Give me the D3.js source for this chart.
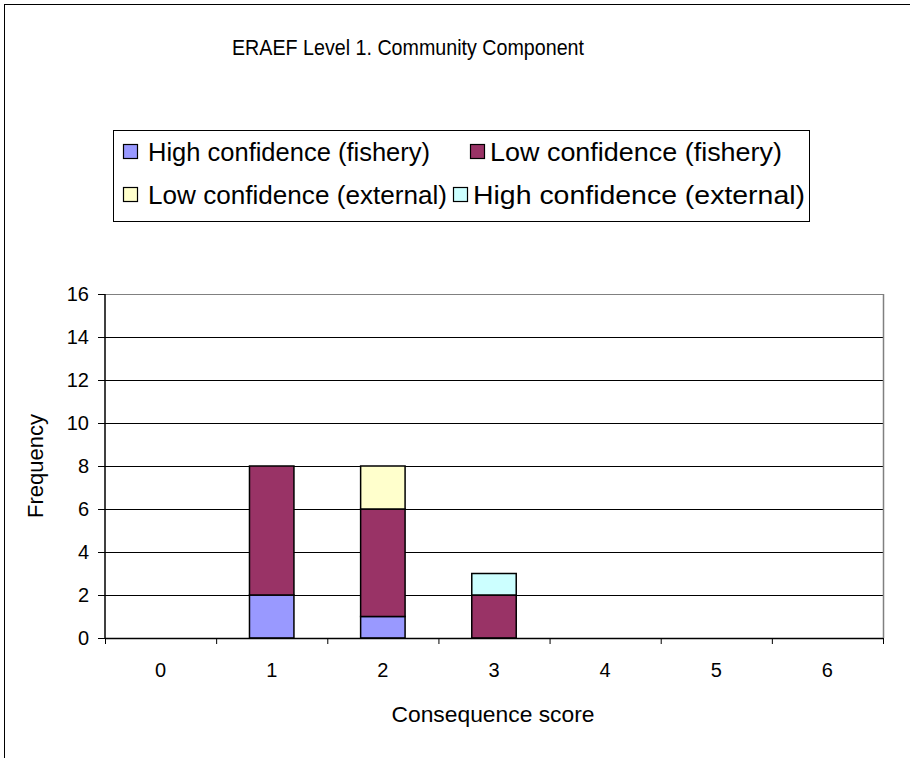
<!DOCTYPE html>
<html><head><meta charset="utf-8">
<script src="https://cdn.jsdelivr.net/npm/d3@7/dist/d3.min.js"></script>
<style>body{margin:0;background:#fff}svg{display:block}text{font-family:"Liberation Sans",Arial,sans-serif;fill:#000}</style>
</head><body>
<script>
const categories = ["0","1","2","3","4","5","6"];
const highFishery = [0,2,1,0,0,0,0];
const lowFishery = [0,6,5,2,0,0,0];
const lowExternal = [0,0,2,0,0,0,0];
const highExternal = [0,0,0,1,0,0,0];
const seriesNames = ["High confidence (fishery)","Low confidence (fishery)","Low confidence (external)","High confidence (external)"];
const seriesColors = ["#9999FF","#993366","#FFFFCC","#CCFFFF"];
const yTicks = [0,2,4,6,8,10,12,14,16];

const W=910,H=758;
const svg=d3.select("body").append("svg").attr("width",W).attr("height",H);
svg.append("rect").attr("x",4.5).attr("y",4.5).attr("width",W+10).attr("height",H+10).attr("fill","#fff").attr("stroke","#000");

const m={l:105,r:883,t:294,b:638};
const x=d3.scaleBand().domain(categories).range([m.l,m.r]).paddingInner(0.6).paddingOuter(0.3);
const xb=d3.scaleBand().domain(categories).range([m.l,m.r]);
const y=d3.scaleLinear().domain([0,16]).range([m.b,m.t]);

// grid
svg.append("g").selectAll("line").data(yTicks.filter(d=>d>0)).join("line")
 .attr("x1",m.l).attr("x2",m.r).attr("y1",d=>y(d)+0.5).attr("y2",d=>y(d)+0.5)
 .attr("stroke",d=>d===16?"#808080":"#000").attr("stroke-width",1);
svg.append("line").attr("x1",m.r+0.5).attr("x2",m.r+0.5).attr("y1",m.t).attr("y2",m.b).attr("stroke","#808080").attr("stroke-width",1.5);

// stacked bars
const rows=categories.map((c,i)=>({cat:c,s0:highFishery[i],s1:lowFishery[i],s2:lowExternal[i],s3:highExternal[i]}));
const stack=d3.stack().keys(["s0","s1","s2","s3"])(rows);
stack.forEach((layer,li)=>{
  svg.append("g").selectAll("rect").data(layer.filter(d=>d[1]-d[0]>0)).join("rect")
   .attr("x",d=>x(d.data.cat)).attr("width",x.bandwidth())
   .attr("y",d=>y(d[1])).attr("height",d=>y(d[0])-y(d[1]))
   .attr("fill",seriesColors[li]).attr("stroke","#000").attr("stroke-width",1.5);
});

// axes
const ya=svg.append("g").attr("transform",`translate(${m.l},0)`)
 .call(d3.axisLeft(y).tickValues(yTicks).tickSize(7).tickPadding(9).tickFormat(d3.format("d")));
ya.select(".domain").attr("stroke","#000").attr("stroke-width",1.5).attr("d",`M0,${m.t}V${m.b}`);
ya.selectAll(".tick line").attr("stroke","#000");
ya.selectAll("text").style("font-size","20px").style("font-family","'Liberation Sans',Arial,sans-serif");

const xa=svg.append("g").attr("transform",`translate(0,${m.b})`);
xa.append("line").attr("x1",m.l).attr("x2",m.r).attr("y1",0.5).attr("y2",0.5).attr("stroke","#000").attr("stroke-width",1.5);
xa.selectAll("line.t").data(d3.range(categories.length+1)).join("line").attr("class","t")
 .attr("x1",i=>m.l+i*xb.step()+0.5).attr("x2",i=>m.l+i*xb.step()+0.5).attr("y1",0).attr("y2",6).attr("stroke","#000");
xa.selectAll("text").data(categories).join("text")
 .attr("x",d=>xb(d)+xb.bandwidth()/2).attr("y",39).attr("text-anchor","middle").style("font-size","20px").text(d=>d);

// titles
svg.append("text").attr("x",408).attr("y",55).attr("text-anchor","middle").style("font-size","22px")
 .attr("textLength",352).attr("lengthAdjust","spacingAndGlyphs").text("ERAEF Level 1. Community Component");
svg.append("text").attr("x",493).attr("y",722).attr("text-anchor","middle").style("font-size","22px")
 .attr("textLength",203).attr("lengthAdjust","spacingAndGlyphs").text("Consequence score");
svg.append("text").attr("transform","translate(43,466) rotate(-90)").attr("text-anchor","middle").style("font-size","22px").text("Frequency");

// legend
svg.append("rect").attr("x",113.5).attr("y",130.5).attr("width",696).attr("height",91).attr("fill","#fff").attr("stroke","#000");
const legPos=[[123,152],[470,152],[123,195],[453,195]];
const legLen=[282,292,299,332];
seriesNames.forEach((n,i)=>{
  const [lx,ly]=legPos[i];
  svg.append("rect").attr("x",lx+0.5).attr("y",ly-7.5).attr("width",14).attr("height",14).attr("fill",seriesColors[i]).attr("stroke","#000").attr("stroke-width",1.2);
  svg.append("text").attr("x",lx+(i===0||i===2?25:20)).attr("y",ly+9).style("font-size","25px")
   .attr("textLength",legLen[i]).attr("lengthAdjust","spacingAndGlyphs").text(n);
});
</script>
</body></html>
